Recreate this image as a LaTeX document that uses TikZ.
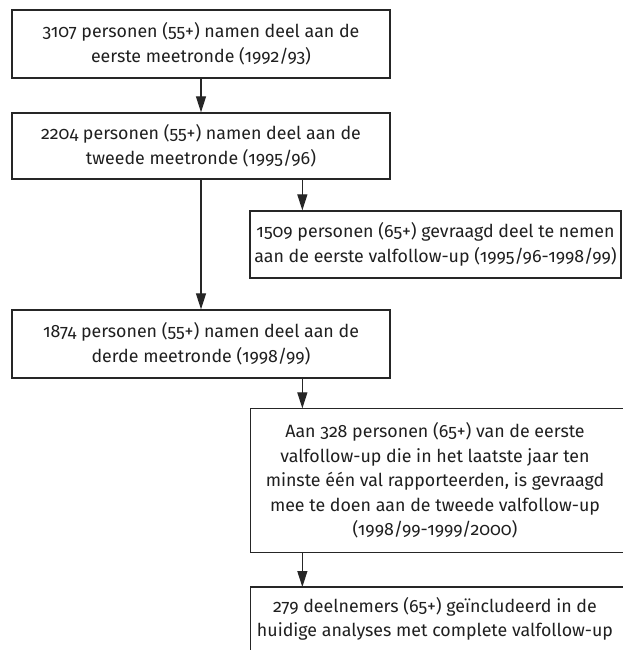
\documentclass[tikz,border=0pt]{standalone}
\usepackage{fontspec}
\setmainfont[Numbers=OldStyle]{Fira Sans}
\usetikzlibrary{arrows.meta}
\begin{document}
\begin{tikzpicture}[x=1pt,y=-1pt,
  box/.style={draw=black!85, line width=1.3pt, align=center, inner sep=0pt,
    text=black!88, font=\fontsize{17.8}{24.5}\selectfont},
  edge/.style={black!85, line width=1.3pt},
  arr/.style={draw=black!85, line width=1.2pt, -{Triangle[length=16pt,width=10pt]}}]
\useasboundingbox (0,0) rectangle (623,650);
\clip (0,0) rectangle (623,650);
\node[box, minimum width=378pt, minimum height=68pt] (b1) at (201,44)
  {3107 personen (55+) namen deel aan de\\eerste meetronde (1992/93)};
\node[box, minimum width=378pt, minimum height=66pt] (b2) at (201,146)
  {2204 personen (55+) namen deel aan de\\tweede meetronde (1995/96)};
\node[box, minimum width=371pt, minimum height=67pt] (b3) at (435.5,244.5)
  {1509 personen (65+) gevraagd deel te nemen\\aan de eerste valfollow-up (1995/96-1998/99)};
\node[box, minimum width=378pt, minimum height=68pt] (b4) at (201,344)
  {1874 personen (55+) namen deel aan de\\derde meetronde (1998/99)};
\node[box, draw=none, minimum width=368pt, minimum height=143pt] (b5) at (435,480.5)
  {Aan 328 personen (65+) van de eerste\\valfollow-up die in het laatste jaar ten\\minste één val rapporteerden, is gevraagd\\mee te doen aan de tweede valfollow-up\\(1998/99-1999/2000)};
\node[box, draw=none, minimum width=368pt, minimum height=62pt, anchor=north] (b6) at (435,587)
  {279 deelnemers (65+) geïncludeerd in de\\huidige analyses met complete valfollow-up};
\draw[edge] ([xshift=40pt]b5.north east) -- (b5.north west) -- (b5.south west) -- ([xshift=40pt]b5.south east);
\draw[edge] ([xshift=40pt]b6.north east) -- (b6.north west) -- ([yshift=-40pt]b6.south west);
\draw[arr] (b1.south) -- (b2.north);
\draw[arr] (b2.south) -- (b4.north);
\coordinate (c3) at ([xshift=53pt]b3.north west);
\coordinate (c5) at ([xshift=52pt]b5.north west);
\coordinate (c6) at ([xshift=52pt]b6.north west);
\draw[arr] (b2.south -| c3) -- (c3);
\draw[arr] (b4.south -| c5) -- (c5);
\draw[arr] (b5.south -| c6) -- (c6);
\end{tikzpicture}
\end{document}
